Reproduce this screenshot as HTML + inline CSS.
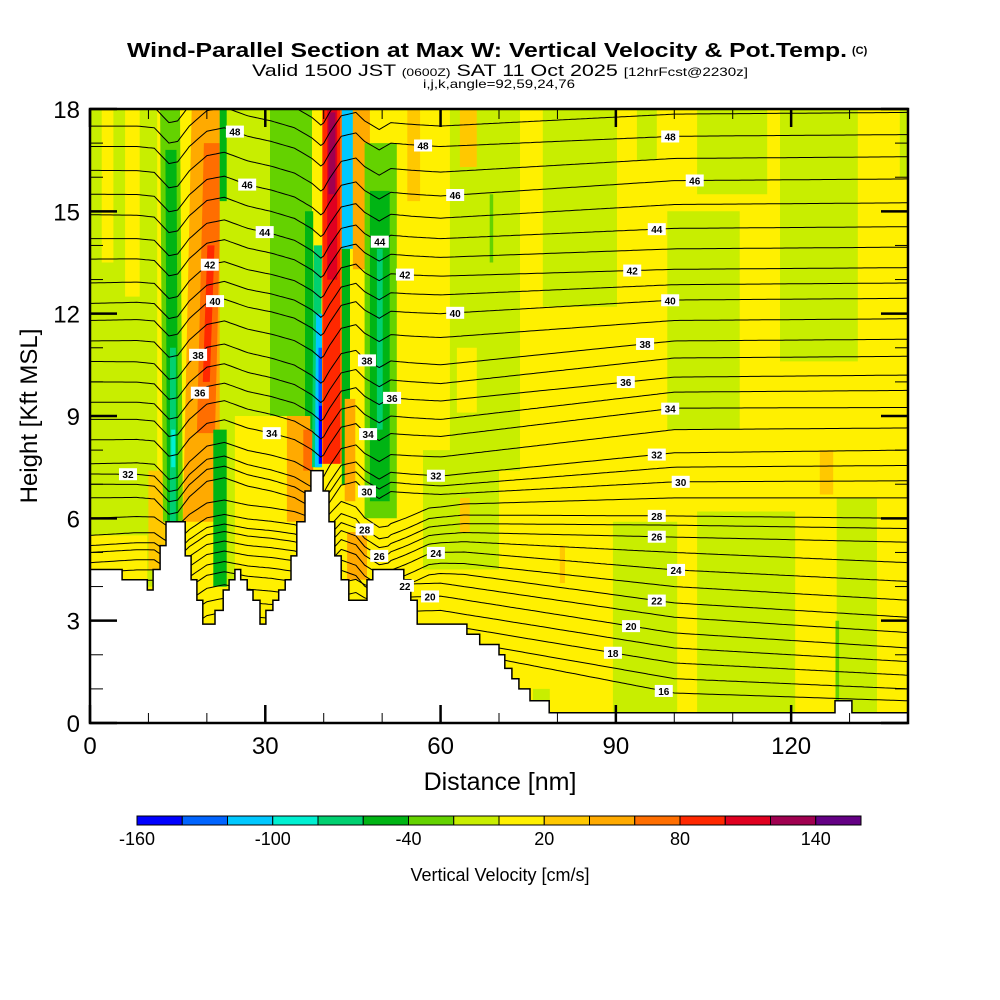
<!DOCTYPE html>
<html><head><meta charset="utf-8"><title>Wind-Parallel Section</title>
<style>html,body{margin:0;padding:0;background:#fff;}svg{display:block;}text{font-family:"Liberation Sans",sans-serif;}</style>
</head><body>
<svg id="chart" width="1000" height="1000" viewBox="0 0 1000 1000" xmlns="http://www.w3.org/2000/svg">
<defs><clipPath id="plotclip"><rect x="90" y="109" width="818" height="614"/></clipPath></defs>
<text x="127" y="57" font-size="20" font-weight="bold" textLength="720" lengthAdjust="spacingAndGlyphs">Wind-Parallel Section at Max W: Vertical Velocity &amp; Pot.Temp.</text>
<text x="852" y="54" font-size="11" font-weight="bold">(C)</text>
<text x="252" y="76" font-size="17" textLength="496" lengthAdjust="spacingAndGlyphs">Valid 1500 JST <tspan font-size="11">(0600Z)</tspan> SAT 11 Oct 2025 <tspan font-size="12">[12hrFcst@2230z]</tspan></text>
<text x="423" y="88" font-size="12" textLength="152" lengthAdjust="spacingAndGlyphs">i,j,k,angle=92,59,24,76</text>
<rect x="90" y="109" width="818" height="614" fill="#fff000"/>
<g id="fill" clip-path="url(#plotclip)"></g>
<g id="contours" clip-path="url(#plotclip)"></g>
<g id="terrain"></g>
<g id="labels"></g>
<g id="axes"></g>
<text x="500" y="790" font-size="25" text-anchor="middle">Distance [nm]</text>
<text transform="translate(37,416) rotate(-90)" font-size="24" text-anchor="middle">Height [Kft MSL]</text>
<g id="colorbar"></g>
<text x="500" y="881" font-size="18" text-anchor="middle">Vertical Velocity [cm/s]</text>
</svg>
<script>
const NS = "http://www.w3.org/2000/svg";
// ---- colour scale ----
const wBinStart = [-160,-140,-120,-100,-80,-60,-40,-20,0,20,40,60,80,100,120,140];
const wColors = ["#0000ff","#0064ff","#00c8ff","#00f0d2","#00d070","#00b414","#64d200","#c8ee00","#fff000","#ffc800","#ffaa00","#ff6e00","#ff2800","#e00020","#a00050","#640084"];
const cbTickValues = [-160,-100,-40,20,80,140];
// ---- terrain (step start distance nm, height kft) ----
const terrainNm  = [0,5.5,9.8,10.8,12.0,13.0,16.3,17.3,18.3,19.3,21.4,22.8,23.8,24.8,25.8,26.9,27.9,29.1,30.1,31.3,32.3,33.4,34.4,35.4,36.8,37.8,39.9,40.9,41.9,43.0,44.3,47.4,48.4,53.7,54.9,56.0,64.5,66.7,70.0,71.0,72.2,73.4,75.3,78.6,127.5,130.4];
const terrainKft = [4.5,4.2,3.9,4.5,5.2,5.9,4.9,4.2,3.6,2.9,3.3,3.9,4.2,4.5,4.2,3.9,3.6,2.9,3.3,3.6,3.9,4.2,4.9,5.9,6.8,7.4,6.8,5.9,4.9,4.2,3.6,4.2,4.5,4.2,3.6,2.9,2.6,2.3,2.0,1.6,1.3,1.0,0.65,0.3,0.65,0.3];
// ---- vertical velocity patches (nm, kft, cm/s, lean nm) ----
const patchX0  = [0,2,6,0,10,12.5,13.2,13.7,13.9,15.9,18.3,19.3,22.2,22.2,21.1,24,30.8,36.8,33.7,36.5,38,38.5,39.1,39.2,39.7,39.9,40.6,40.8,43.1,43.1,45,43.6,44,47,47.9,49.1,54.3,57,61.6,62.8,63.3,68.4,77.5,93.6,98.8,103.9,118.1,138.6,89.5,103.9,127.8,75.8,127.6,124.9,63.3,80.4];
const patchX1  = [11.5,4,8.5,9.8,12.8,15.9,15.1,14.7,14.6,23,21.4,20.5,24.8,23.4,23.4,30.8,38,38.2,37.7,38.2,39.4,39.7,39.8,39.7,43.3,42.8,42.3,42,45,44.5,47.9,45.4,47.4,52.5,51.3,50.1,56.5,70,73.6,66.2,66.2,69,90.2,97,111.2,115.9,131.4,140,100.5,120.7,134.7,78.7,128.2,127.2,65,81.3];
const patchTop = [18,18,18,5.5,7.4,18,16.8,11,8.6,18,17,14,18,18,8.6,18,18,15,9,8.6,14,12,11,9.3,18,18,18,17.9,18,13.9,18,9.5,5.6,17,15.6,13.9,18,8,18,11,18,15.5,18,18,15,18,18,18,5.9,6.2,6.6,1,3,8,6.6,5.2];
const patchBot = [4,13.5,12.5,4,4.5,5.9,5.9,5.9,7.5,5.9,8.5,10,4,15.3,4,9,9,7.5,5.9,7.4,7.5,7.5,7.6,7.6,7.6,7.6,13,15.5,13.9,7,13.3,6.5,4.2,6,6.5,8.6,15.3,4.5,7.4,9.1,16.3,13.5,12.2,16.5,8.6,15.5,10.6,16,0,0,0,0,0.5,6.7,5.6,4.1];
const patchW   = [-10,10,10,10,30,-30,-50,-70,-90,50,70,90,-10,-50,-50,-10,-30,-50,50,70,-70,-110,-130,-150,70,90,110,130,-110,-50,50,50,50,-30,-50,-70,30,-10,-10,10,30,-30,-10,-10,-10,-10,-10,-10,-10,-10,-10,-10,-30,30,30,30];
const patchLean= [0,0,0,0,0,-0.5,-0.3,0,0,1.5,1.2,0.8,0,0,0,0,0,0,0,0,0.3,0.2,0,0,0,0,0,0,0,0,0,0,0,0,0,0,0,0,0,0,0,0,0,0,0,0,0,0,0,0,0,0,0,0,0,0];
// ---- potential temperature contours ----
const thetaLevels = [16,17,18,19,20,21,22,23,24,25,26,27,28,29,30,31,32,33,34,35,36,37,38,39,40,41,42,43,44,45,46,47,48,49,50];
const anchorNm = [0,60,100,140];
const theta0   = [1.4,1.8,2.2,2.6,3.0,3.4,3.8,4.1,4.4,4.7,5.0,5.2,5.5,6.0,6.6,7.0,7.3,7.6,8.3,8.9,9.4,10.0,10.6,11.2,11.8,12.3,12.9,13.6,14.2,14.9,15.5,16.2,16.9,17.5,18.1];
const theta60  = [2.2,2.5,2.9,3.3,3.72,4.1,4.45,4.75,5.07,5.35,5.6,5.85,6.1,6.4,6.7,6.95,7.24,7.8,8.4,8.9,9.44,9.95,10.5,11.3,12.0,12.55,13.1,13.65,14.2,14.8,15.45,16.15,16.9,17.5,18.1];
const theta100 = [0.88,1.3,1.76,2.2,2.64,3.1,3.52,4.0,4.49,5.0,5.45,5.8,6.07,6.6,7.07,7.5,7.92,8.6,9.23,9.7,10.14,10.7,11.2,11.8,12.4,12.85,13.3,13.9,14.5,15.2,15.9,16.55,17.2,17.85,18.5];
const theta140 = [0.65,1.0,1.4,1.8,2.2,2.65,3.1,3.6,4.15,4.7,5.3,5.7,6.0,6.6,7.1,7.55,8.0,8.65,9.25,9.75,10.2,10.75,11.25,11.85,12.45,12.9,13.35,13.95,14.55,15.25,15.95,16.6,17.25,17.9,18.55];
const waveNm  = [0,8,11,13.5,15,17,20,23,27,31,35,38,39.7,41,43,45.5,47,49.5,51.5,55,60,140];
const waveKft = [0,0,-0.05,-0.5,-0.45,0,0.45,0.55,0.3,0.15,-0.05,-0.35,-0.6,-0.2,0.3,0.4,0.15,-0.1,0.1,0.05,0,0];
const leeNm  = [43,47,51,54,58,64];
const leeKft = [0,-0.4,-0.6,-0.4,-0.1,0];
const labelLevel = [32,48,46,44,42,40,38,36,34,48,46,44,42,40,38,36,34,32,30,28,26,22,24,20,48,46,44,42,40,38,36,34,32,30,28,26,24,22,20,18,16];
const labelNm    = [6.5,24.8,26.9,29.9,20.5,21.4,18.5,18.8,31.1,57,62.5,49.6,53.9,62.5,47.4,51.7,47.6,59.2,47.4,47,49.5,53.9,59.2,58.2,99.3,103.5,97,92.8,99.3,95,91.7,99.3,97,101.1,97,97,100.3,97,92.6,89.5,98.2];
// ---- axes ----
const xTicks = [0,30,60,90,120];
const yTicks = [0,3,6,9,12,15,18];

const X0=90, X1=908, Y0=723, Y1=109, XMAX=140, YMAX=18;
const xs = nm => X0 + nm*(X1-X0)/XMAX;
const ys = k => Y0 - k*(Y0-Y1)/YMAX;
function colorFor(w){let i=Math.floor((w+160)/20);i=Math.max(0,Math.min(15,i));return wColors[i];}
function interp(xa,ya,x){if(x<=xa[0])return ya[0];for(let i=1;i<xa.length;i++){if(x<=xa[i]){const t=(x-xa[i-1])/(xa[i]-xa[i-1]);return ya[i-1]+t*(ya[i]-ya[i-1]);}}return ya[ya.length-1];}
function mk(tag,attrs,parent){const e=document.createElementNS(NS,tag);for(const k in attrs)e.setAttribute(k,attrs[k]);parent.appendChild(e);return e;}

// fill patches
const gFill=document.getElementById('fill');
for(let i=0;i<patchW.length;i++){
  const l=patchLean[i];
  const pts=[[xs(patchX0[i]+l),ys(patchTop[i])],[xs(patchX1[i]+l),ys(patchTop[i])],[xs(patchX1[i]),ys(patchBot[i])],[xs(patchX0[i]),ys(patchBot[i])]];
  const p=mk('polygon',{points:pts.map(q=>q[0].toFixed(1)+','+q[1].toFixed(1)).join(' '),fill:colorFor(patchW[i])},gFill);
  
  
}
// contours
function thetaHeight(li,nm){
  const lev=thetaLevels[li];
  let h=interp(anchorNm,[theta0[li],theta60[li],theta100[li],theta140[li]],nm);
  h+=interp(waveNm,waveKft,nm)*(lev>=30?1:0.7);
  if(lev>=22&&lev<=29)h+=interp(leeNm,leeKft,nm);
  return h;
}
const gC=document.getElementById('contours');
for(let li=0;li<thetaLevels.length;li++){
  let d='';
  for(let nm=0;nm<=XMAX+0.01;nm+=0.5){d+=(nm===0?'M':'L')+xs(nm).toFixed(1)+','+ys(thetaHeight(li,nm)).toFixed(1);}
  const p=mk('path',{d:d,fill:'none',stroke:'#000','stroke-width':1},gC);
  
  
}
// terrain
const gT=document.getElementById('terrain');
let td='M'+xs(0)+','+Y0;
for(let i=0;i<terrainNm.length;i++){
  const x=xs(terrainNm[i]).toFixed(1), y=ys(terrainKft[i]).toFixed(1);
  td+=' L'+x+','+y;
  const nx=i+1<terrainNm.length?xs(terrainNm[i+1]).toFixed(1):X1;
  td+=' L'+nx+','+y;
}
td+=' L'+X1+','+Y0+' Z';
const tp=mk('path',{d:td,fill:'#fff',stroke:'#000','stroke-width':1.5},gT);


// labels
const gL=document.getElementById('labels');
for(let i=0;i<labelLevel.length;i++){
  const li=thetaLevels.indexOf(labelLevel[i]);
  const x=xs(labelNm[i]), y=ys(thetaHeight(li,labelNm[i]));
  const g=mk('g',{},gL);
  
  
  mk('rect',{x:x-9,y:y-6,width:18,height:12,fill:'#fff'},g);
  const t=mk('text',{x:x,y:y+4,'font-size':10,'font-weight':'bold','text-anchor':'middle'},g);
  t.textContent=labelLevel[i];
}
// axes
const gA=document.getElementById('axes');
const frame=mk('rect',{x:X0,y:Y1,width:X1-X0,height:Y0-Y1,fill:'none',stroke:'#000','stroke-width':2.5},gA);


for(let v=0;v<=XMAX;v+=10){
  const maj=xTicks.includes(v), L=maj?18:10, x=xs(v);
  mk('line',{x1:x,y1:Y0,x2:x,y2:Y0-L,stroke:'#000','stroke-width':maj?2.5:1},gA);
  mk('line',{x1:x,y1:Y1,x2:x,y2:Y1+L,stroke:'#000','stroke-width':maj?2.5:1},gA);
}
xTicks.forEach(v=>{const t=mk('text',{x:xs(v),y:754,'font-size':24,'text-anchor':'middle'},gA);t.textContent=v;
  
  });
for(let v=0;v<=YMAX;v+=1){
  const maj=yTicks.includes(v), L=maj?27:13, y=ys(v);
  mk('line',{x1:X0,y1:y,x2:X0+L,y2:y,stroke:'#000','stroke-width':maj?2.5:1},gA);
  mk('line',{x1:X1,y1:y,x2:X1-L,y2:y,stroke:'#000','stroke-width':maj?2.5:1},gA);
}
yTicks.forEach(v=>{const t=mk('text',{x:80,y:ys(v)+9,'font-size':24,'text-anchor':'end'},gA);t.textContent=v;
  
  });
// colorbar
const gB=document.getElementById('colorbar');
const CB0=137, CB1=861, cw=(CB1-CB0)/wBinStart.length;
for(let i=0;i<wBinStart.length;i++){
  const r=mk('rect',{x:CB0+i*cw,y:816,width:cw,height:9,fill:wColors[i],stroke:'#000','stroke-width':1},gB);
  
  
}
cbTickValues.forEach(v=>{const t=mk('text',{x:CB0+(v+160)/20*cw,y:845,'font-size':18,'text-anchor':'middle'},gB);t.textContent=v;
  
  });
</script>
</body></html>
